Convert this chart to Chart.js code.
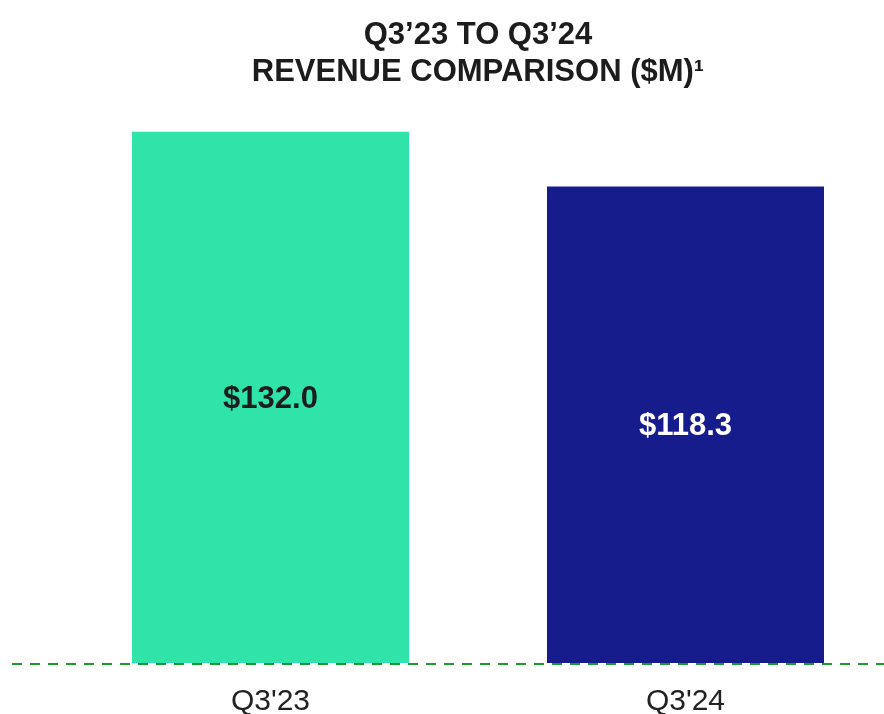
<!DOCTYPE html>
<html>
<head>
<meta charset="utf-8">
<script src="https://cdn.jsdelivr.net/npm/chart.js@4"></script>
<style>
  html, body { margin: 0; padding: 0; background: #fff; overflow: hidden; }
  #wrap { width: 884px; height: 714px; overflow: hidden; }
</style>
</head>
<body>
<div id="wrap"><canvas id="chart" width="900" height="714"></canvas></div>
<script>
const categories = ["Q3'23", "Q3'24"];
const revenue = [132.0, 118.3];
const barColors = ['#30e3a9', '#161c8c'];
const labelColors = ['#1c1c1c', '#ffffff'];
const titleLines = ['Q3\u201923 TO Q3\u201924', 'REVENUE COMPARISON ($M)\u00b9'];

// value text in the middle of each bar
const barValues = {
  id: 'barValues',
  afterDatasetsDraw(chart) {
    const ctx = chart.ctx;
    const meta = chart.getDatasetMeta(0);
    ctx.save();
    ctx.font = 'bold 31px "Liberation Sans", Arial, sans-serif';
    ctx.textAlign = 'center';
    ctx.textBaseline = 'middle';
    meta.data.forEach((bar, i) => {
      ctx.fillStyle = labelColors[i];
      ctx.fillText('$' + revenue[i].toFixed(1), bar.x, (bar.y + bar.base) / 2 + 2);
    });
    ctx.restore();
  }
};

// dashed green baseline
const baseline = {
  id: 'baseline',
  afterDraw(chart) {
    const ctx = chart.ctx;
    const y = chart.chartArea.bottom + 1;
    ctx.save();
    ctx.strokeStyle = '#1f9a2c';
    ctx.lineWidth = 2;
    ctx.setLineDash([10, 8]);
    ctx.beginPath();
    ctx.moveTo(12, y);
    ctx.lineTo(884, y);
    ctx.stroke();
    ctx.restore();
  }
};

new Chart(document.getElementById('chart'), {
  type: 'bar',
  data: {
    labels: categories,
    datasets: [{
      data: revenue,
      backgroundColor: barColors,
      borderWidth: 0,
      barPercentage: 1,
      categoryPercentage: 0.6675
    }]
  },
  options: {
    responsive: false,
    animation: false,
    layout: { padding: { left: 63, right: 7, top: 0, bottom: 0 } },
    plugins: {
      legend: { display: false },
      tooltip: { enabled: false },
      title: {
        display: true,
        text: titleLines,
        color: '#1c1c1c',
        font: { family: '"Liberation Sans", Arial, sans-serif', size: 31, weight: 'bold', lineHeight: 1.2 },
        padding: { top: 17, bottom: 40 }
      }
    },
    scales: {
      x: {
        grid: { display: false },
        border: { display: false },
        afterFit(scale) { scale.height = 51; },
        ticks: {
          color: '#222',
          padding: 13,
          font: { family: '"Liberation Sans", Arial, sans-serif', size: 30 }
        }
      },
      y: {
        display: false,
        min: 0,
        max: 132
      }
    }
  },
  plugins: [barValues, baseline]
});
</script>
</body>
</html>
